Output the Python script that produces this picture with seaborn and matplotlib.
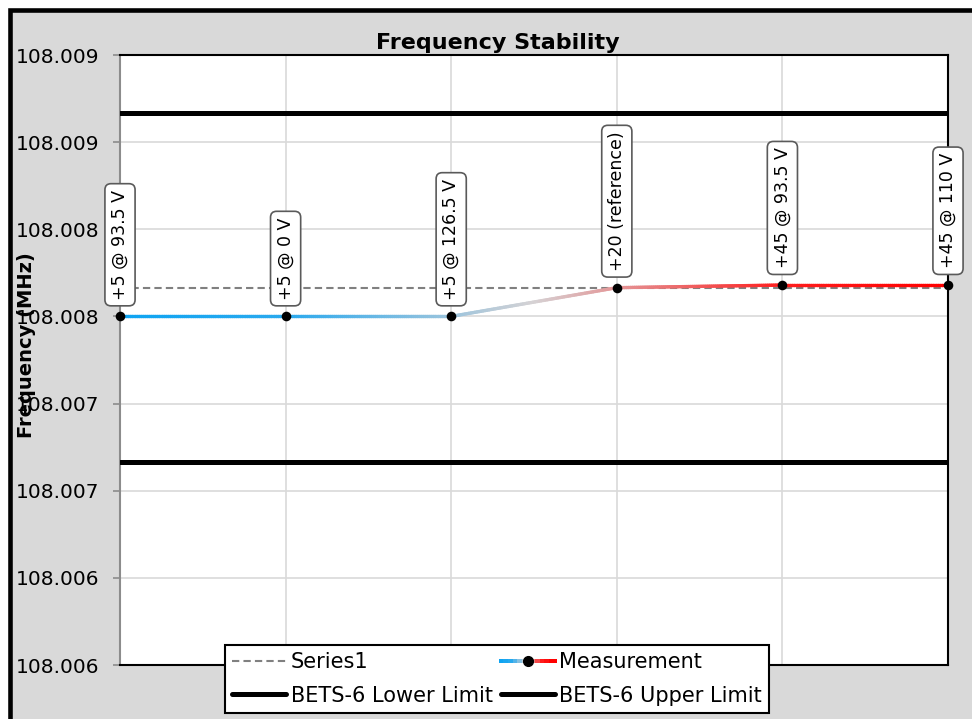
import numpy as np
import seaborn as sns
import matplotlib.pyplot as plt
from matplotlib.collections import LineCollection
from matplotlib.colors import LinearSegmentedColormap
from matplotlib.legend_handler import HandlerBase
from matplotlib.lines import Line2D
from matplotlib.patches import Rectangle

# Values
conditions = ['+5 @ 93.5 V', '+5 @ 0 V', '+5 @ 126.5 V',
              '+20 (reference)', '+45 @ 93.5 V', '+45 @ 110 V']
measurement = [108.00800, 108.00800, 108.00800, 108.008165, 108.00818, 108.00818]
series1 = [108.008165, 108.008165, 108.008165, 108.008165, 108.008165, 108.008165]
lower_limit = 108.007165
upper_limit = 108.009165
y_ticks = [108.006, 108.0065, 108.007, 108.0075, 108.008, 108.0085, 108.009, 108.0095]
y_tick_labels = ['108.006', '108.006', '108.007', '108.007',
                 '108.008', '108.008', '108.009', '108.009']

# blue -> grey -> red gradient used on the measurement line
grad = LinearSegmentedColormap.from_list(
    'bluered', [(0.0, '#0ea4f2'), (0.2, '#2aa9ee'), (0.5, '#d6d2d4'),
                (0.8, '#ff1e1e'), (1.0, '#ff0000')])


class GradientHandler(HandlerBase):
    # legend entry: gradient line with a black dot in the middle
    def create_artists(self, legend, orig_handle, xdescent, ydescent,
                       width, height, fontsize, trans):
        n = 12
        xs = np.linspace(-xdescent, width - xdescent, n + 1)
        yc = height / 2 - ydescent
        segs = [[(xs[i], yc), (xs[i + 1], yc)] for i in range(n)]
        lc = LineCollection(segs, colors=grad(np.linspace(0, 1, n)),
                            linewidth=2.6, capstyle='projecting',
                            antialiased=False, transform=trans)
        dot = Line2D([width / 2 - xdescent], [yc], marker='o', color='black',
                     markersize=7, linestyle='none', transform=trans)
        return [lc, dot]


sns.set_style('white')
plt.rcParams['font.family'] = ['DejaVu Sans']
plt.rcParams['text.color'] = 'black'

fig = plt.figure(figsize=(9.72, 7.19), dpi=100, facecolor='white')

# grey panel with thick black frame (only left/top edges visible)
fig.add_artist(Rectangle((9.7 / 972, -0.1), 1.2, 1.1 - 9.7 / 719,
                         transform=fig.transFigure, facecolor='#d9d9d9',
                         edgecolor='black', linewidth=3.3, zorder=-10))

ax = fig.add_axes([120 / 972, 1 - 665 / 719, 828 / 972, 610 / 719])
ax.set_facecolor('white')

x = np.arange(len(conditions))

# limit lines
ax.axhline(lower_limit, color='black', linewidth=3.6, zorder=3)
ax.axhline(upper_limit, color='black', linewidth=3.6, zorder=3)

# Series1 dashed reference
sns.lineplot(x=x, y=series1, ax=ax, color='#808080', linewidth=1.5,
             linestyle=(0, (3.5, 2)), zorder=4, legend=False)

# measurement line with gradient colouring
xs = np.linspace(0, x[-1], 400)
ys = np.interp(xs, x, measurement)
pts = np.column_stack([xs, ys]).reshape(-1, 1, 2)
segs = np.concatenate([pts[:-1], pts[1:]], axis=1)
meas_lc = LineCollection(segs, colors=grad(xs[:-1] / x[-1]), linewidth=2.4,
                         zorder=5, capstyle='round')
ax.add_collection(meas_lc)
sns.scatterplot(x=x, y=measurement, ax=ax, color='black', s=48,
                linewidth=0, zorder=6, legend=False, clip_on=False)

# labels above each point
for xi, yi, lab in zip(x, measurement, conditions):
    ax.annotate(lab, (xi, yi), xytext=(0, 12), textcoords='offset points',
                rotation=90, ha='center', va='bottom', fontsize=12.5,
                color='black', zorder=8, annotation_clip=False,
                bbox=dict(boxstyle='round,pad=0.35,rounding_size=0.35',
                          fc='white', ec='#5a5a5a', lw=1.2))

ax.set_xlim(0, x[-1])
ax.set_ylim(y_ticks[0], y_ticks[-1])
ax.set_xticks(x)
ax.set_xticklabels([])
ax.set_yticks(y_ticks)
ax.set_yticklabels(y_tick_labels)
ax.grid(True, color='#d9d9d9', linewidth=1.2, zorder=0)
ax.set_axisbelow(True)
ax.tick_params(axis='x', length=0)
ax.tick_params(axis='y', length=5, width=1.2, color='#8c8c8c', pad=10,
               labelsize=14.5, labelcolor='black', left=True)
for side in ['top', 'right', 'bottom']:
    ax.spines[side].set_color('black')
    ax.spines[side].set_linewidth(1.5)
ax.spines['left'].set_color('#8c8c8c')
ax.spines['left'].set_linewidth(1.5)

# title and y label
fig.text(498 / 972, 1 - 49 / 719, 'Frequency Stability', ha='center',
         va='baseline', fontsize=16, fontweight='bold', color='black')
fig.text(27 / 972, 1 - 345 / 719, 'Frequency (MHz)', rotation=90,
         ha='center', va='center', fontsize=14, fontweight='bold', color='black')

# legend
h_series = Line2D([], [], color='#808080', linewidth=1.5, linestyle=(0, (3.5, 2)))
h_lower = Line2D([], [], color='black', linewidth=3.6)
h_upper = Line2D([], [], color='black', linewidth=3.6)
leg = fig.legend([h_series, h_lower, meas_lc, h_upper],
                 ['Series1', 'BETS-6 Lower Limit', 'Measurement', 'BETS-6 Upper Limit'],
                 handler_map={meas_lc: GradientHandler()},
                 ncol=2, loc='lower left',
                 bbox_to_anchor=(225 / 972, 1 - 713 / 719),
                 bbox_transform=fig.transFigure, borderaxespad=0,
                 fontsize=15, handlelength=2.6, handletextpad=0.2,
                 columnspacing=0.4, borderpad=0.35, labelspacing=0.65,
                 fancybox=False, framealpha=1, edgecolor='black')
leg.get_frame().set_linewidth(1.5)
leg.set_zorder(10)
for t in leg.get_texts():
    t.set_color('black')

fig.savefig('out.png', dpi=100, facecolor=fig.get_facecolor())
